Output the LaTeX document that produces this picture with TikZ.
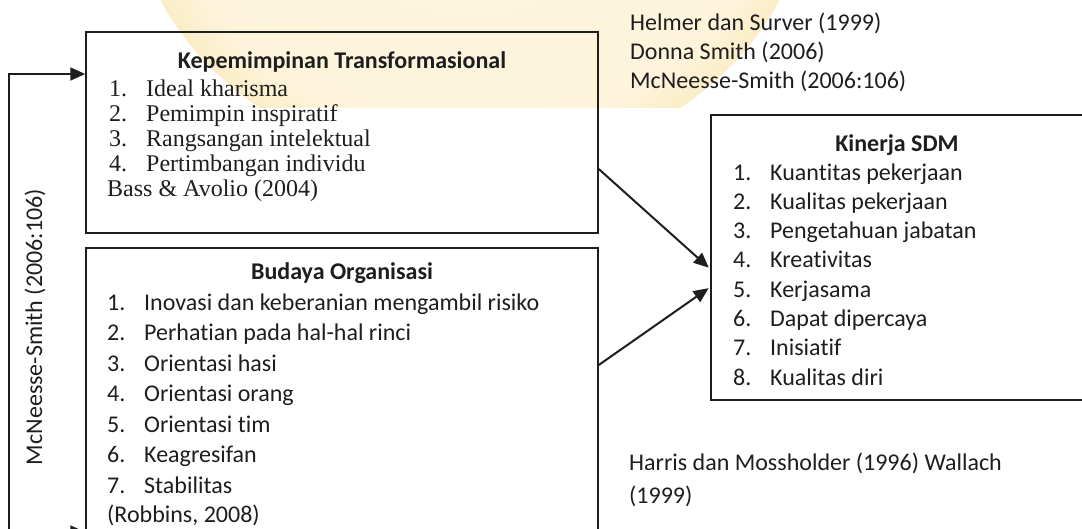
\documentclass[tikz,border=0pt]{standalone}
\usepackage{fontspec}
\setmainfont{Carlito}[Ligatures=NoCommon]
\newfontfamily\tnr{Liberation Serif}
\usetikzlibrary{arrows.meta}
\definecolor{ink}{RGB}{30,30,30}
\definecolor{glowc}{RGB}{247,217,135}
\pgfdeclareradialshading{glowring}{\pgfpoint{0bp}{0bp}}{color(0bp)=(white!75!glowc); color(22bp)=(white!70!glowc); color(34bp)=(glowc); color(45bp)=(white); color(50bp)=(white)}
\tikzset{
  box/.style={draw=ink, line width=1.5pt, minimum width=#1, inner sep=0pt},
  txt/.style={anchor=base west, inner sep=0pt, text=ink, font=\fontsize{24pt}{29pt}\selectfont},
  ttl/.style={anchor=base, inner sep=0pt, text=ink, font=\fontsize{24pt}{29pt}\selectfont\bfseries},
  serif/.style={anchor=base west, inner sep=0pt, text=ink, font=\fontsize{24pt}{29pt}\selectfont\tnr},
  conn/.style={draw=ink, line width=2pt, -{Triangle[length=15pt,width=13pt]}},
}
\newcommand{\itm}[2]{\makebox[37pt][l]{#1}#2}
\begin{document}
\begin{tikzpicture}[x=1pt,y=-1pt]
\useasboundingbox (0,0) rectangle (1082,528);
\clip (0,0) rectangle (1082,528);
% watermark glow
\begin{scope}
  \clip (0,0) rectangle (1082,107);
  \shade[shading=glowring] (470,-120) ellipse [x radius=340pt, y radius=290pt];
\end{scope}
% boxes
\node[box=512pt, minimum height=201pt] (b1) at (342,132.5) {};
\node[box=512pt, minimum height=292pt] (b2) at (342,394) {};
\node[box=389pt, minimum height=285pt] (b3) at (905.5,257.5) {};
% box 1 text
\node[ttl] (t1) at (342,68) {Kepemimpinan Transformasional};
\node[serif] (a1) at (109,96) {\itm{1.}{Ideal kharisma}};
\node[serif] (a2) at (109,121) {\itm{2.}{Pemimpin inspiratif}};
\node[serif] (a3) at (109,146) {\itm{3.}{Rangsangan intelektual}};
\node[serif] (a4) at (109,171) {\itm{4.}{Pertimbangan individu}};
\node[serif] (a5) at (107,196) {Bass \& Avolio (2004)};
% box 2 text
\node[ttl] (t2) at (342,279) {Budaya Organisasi};
\node[txt] (c1) at (107,310) {\itm{1.}{Inovasi dan keberanian mengambil risiko}};
\node[txt] (c2) at (107,340.5) {\itm{2.}{Perhatian pada hal-hal rinci}};
\node[txt] (c3) at (107,371) {\itm{3.}{Orientasi hasi}};
\node[txt] (c4) at (107,401.5) {\itm{4.}{Orientasi orang}};
\node[txt] (c5) at (107,432) {\itm{5.}{Orientasi tim}};
\node[txt] (c6) at (107,462.5) {\itm{6.}{Keagresifan}};
\node[txt] (c7) at (107,493) {\itm{7.}{Stabilitas}};
\node[txt] (c8) at (107,522) {(Robbins, 2008)};
% box 3 text
\node[ttl] (t3) at (897,151) {Kinerja SDM};
\node[txt] (k1) at (733,180) {\itm{1.}{Kuantitas pekerjaan}};
\node[txt] (k2) at (733,209.3) {\itm{2.}{Kualitas pekerjaan}};
\node[txt] (k3) at (733,238.6) {\itm{3.}{Pengetahuan jabatan}};
\node[txt] (k4) at (733,267.9) {\itm{4.}{Kreativitas}};
\node[txt] (k5) at (733,297.1) {\itm{5.}{Kerjasama}};
\node[txt] (k6) at (733,326.4) {\itm{6.}{Dapat dipercaya}};
\node[txt] (k7) at (733,355.7) {\itm{7.}{Inisiatif}};
\node[txt] (k8) at (733,385) {\itm{8.}{Kualitas diri}};
% references
\node[txt] (r1) at (630,30) {Helmer dan Surver (1999)};
\node[txt] (r2) at (630,59) {Donna Smith (2006)};
\node[txt] (r3) at (630,88) {McNeesse-Smith (2006:106)};
\node[txt] (r4) at (629,470) {Harris dan Mossholder (1996) Wallach};
\node[txt] (r5) at (629,503) {(1999)};
\node[anchor=center, inner sep=0pt, text=ink, font=\fontsize{24pt}{29pt}\selectfont, rotate=90] (side) at (35,327) {McNeesse-Smith (2006:106)};
% connectors
\coordinate (lt) at (9,74);
\coordinate (lb) at (9,532);
\draw[draw=ink, line width=2pt, {Triangle[length=15pt,width=13pt]}-{Triangle[length=15pt,width=13pt]}, line join=miter]
  ([yshift=-138pt]b2.west) -- (lb) -- (lt) -- ([yshift=58.5pt]b1.west);
\draw[conn, shorten >=2pt] ([yshift=-36.5pt]b1.east) -- ([yshift=-11.5pt]b3.west);
\draw[conn, shorten >=2pt] ([yshift=29pt]b2.east) -- ([yshift=-29.5pt]b3.west);
\end{tikzpicture}
\end{document}
